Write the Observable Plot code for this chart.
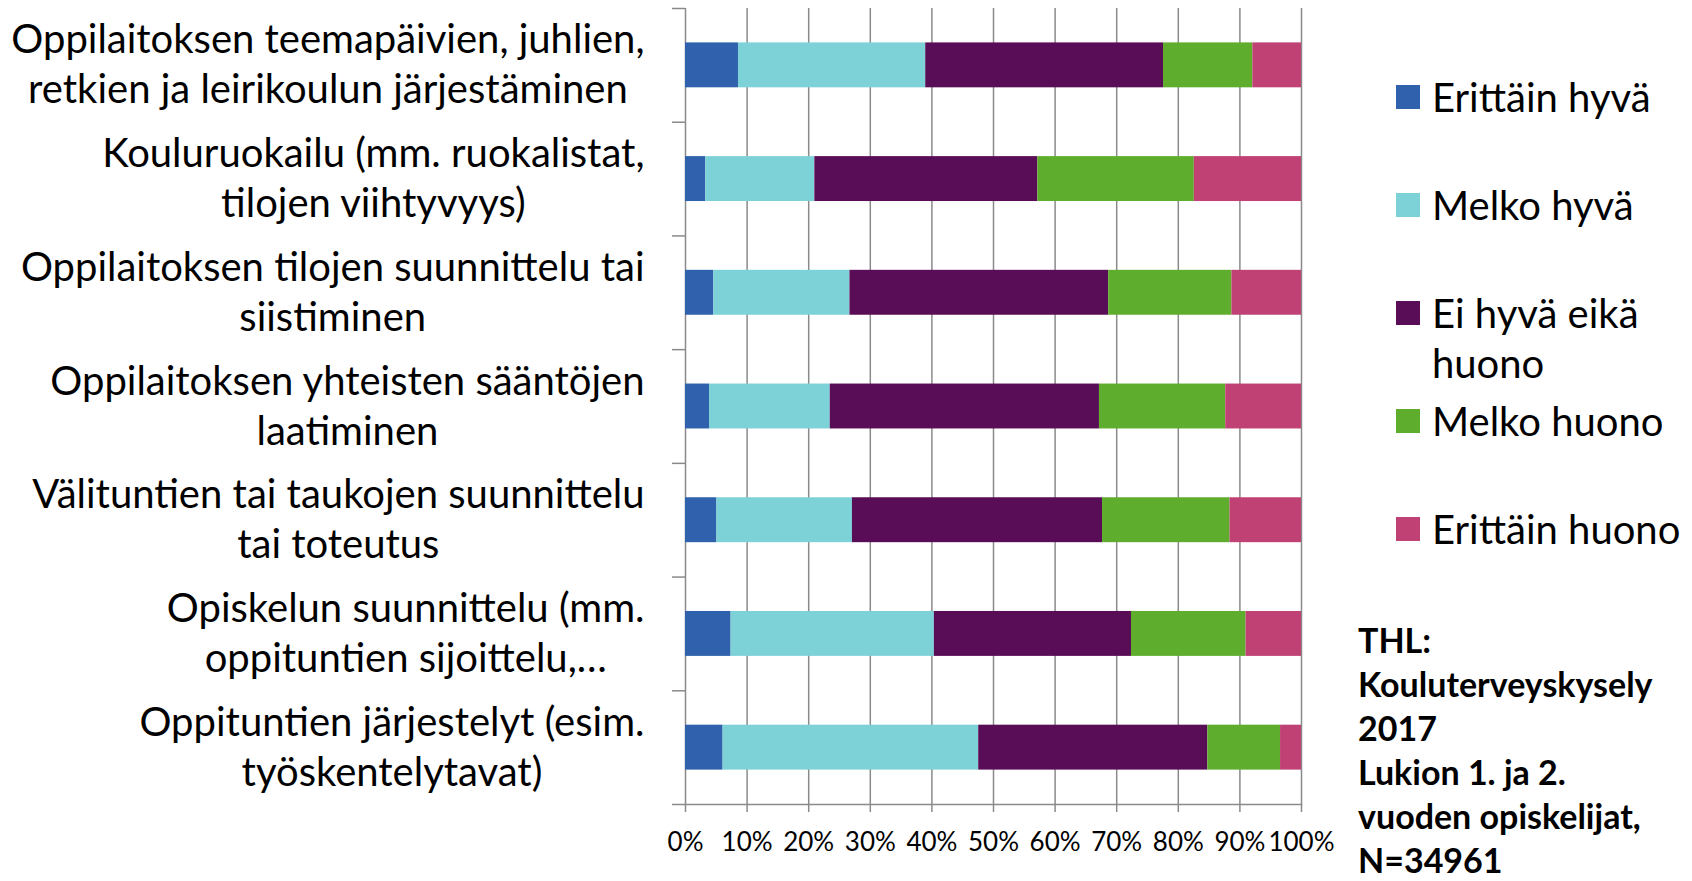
<!DOCTYPE html>
<html><head><meta charset="utf-8">
<script src="https://cdn.jsdelivr.net/npm/d3@7"></script>
<script src="https://cdn.jsdelivr.net/npm/@observablehq/plot@0.6"></script>
<style>
html,body{margin:0;padding:0;background:#fff;}
#wrap{position:relative;width:1692px;height:881px;overflow:hidden;font-family:Lato, sans-serif;color:#000;}
#chart{position:absolute;left:0;top:0;}
.item{position:absolute;left:1396px;display:flex;align-items:flex-start;font-size:40px;line-height:50px;}
.sw{width:24px;height:24px;margin-top:13px;margin-right:12px;flex:none;}
.lbl{width:255px;}
#caption{position:absolute;left:1358px;top:623px;width:330px;font-weight:700;font-size:34px;line-height:34px;}
#caption div{white-space:nowrap;margin-bottom:10px;}
#caption div:last-child{margin-bottom:0;}
</style></head><body>
<div id="wrap"><div id="chart"></div><div id="legend"></div><div id="caption"></div></div>
<script>
const categories = [
  "Oppilaitoksen teemapäivien, juhlien, retkien ja leirikoulun järjestäminen",
  "Kouluruokailu (mm. ruokalistat, tilojen viihtyvyys)",
  "Oppilaitoksen tilojen suunnittelu tai siistiminen",
  "Oppilaitoksen yhteisten sääntöjen laatiminen",
  "Välituntien tai taukojen suunnittelu tai toteutus",
  "Opiskelun suunnittelu (mm. oppituntien sijoittelu,…",
  "Oppituntien järjestelyt (esim. työskentelytavat)"
];
const categoryLabels = [
  "Oppilaitoksen teemapäivien, juhlien,\nretkien ja leirikoulun järjestäminen",
  "Kouluruokailu (mm. ruokalistat,\ntilojen viihtyvyys)",
  "Oppilaitoksen tilojen suunnittelu tai\nsiistiminen",
  "Oppilaitoksen yhteisten sääntöjen\nlaatiminen",
  "Välituntien tai taukojen suunnittelu\ntai toteutus",
  "Opiskelun suunnittelu (mm.\noppituntien sijoittelu,…",
  "Oppituntien järjestelyt (esim.\ntyöskentelytavat)"
];
const levels = ["Erittäin hyvä", "Melko hyvä", "Ei hyvä eikä huono", "Melko huono", "Erittäin huono"];
const colors = ["#2f61ac", "#7dd2d8", "#5a0d57", "#5fad2d", "#c04274"];
const erittainHyva    = [8.6, 3.3, 4.6, 3.9, 5.1, 7.4, 6.1];
const melkoHyva       = [30.4, 17.7, 22.1, 19.6, 22.0, 33.0, 41.5];
const eiHyvaEikaHuono = [38.6, 36.2, 42.0, 43.7, 40.6, 32.0, 37.2];
const melkoHuono      = [14.5, 25.4, 20.0, 20.5, 20.7, 18.6, 11.8];
const erittainHuono   = [7.9, 17.4, 11.3, 12.3, 11.6, 9.0, 3.4];
const xTicks = [0, 10, 20, 30, 40, 50, 60, 70, 80, 90, 100];
const captionLines = ["THL:", "Kouluterveyskysely", "2017", "Lukion 1. ja 2.", "vuoden opiskelijat,", "N=34961"];

const series = [erittainHyva, melkoHyva, eiHyvaEikaHuono, melkoHuono, erittainHuono];
const rows = categories.flatMap((c, i) => levels.map((l, j) => ({category: c, level: l, value: series[j][i]})));
const labelOf = new Map(categories.map((c, i) => [c, categoryLabels[i]]));

const W = 1354, H = 881, mT = 8, mB = 77, mL = 685, mR = 53;
const step = (H - mT - mB) / categories.length;
const gridColor = "#8a8a8a";
const font = "Lato";

const plot = Plot.plot({
  width: W, height: H,
  marginLeft: mL, marginRight: mR, marginTop: mT, marginBottom: mB,
  style: {background: "transparent", overflow: "visible", color: "black"},
  x: {domain: [0, 100]},
  y: {domain: categories, paddingInner: 0.605, paddingOuter: 0.3025, round: false},
  color: {domain: levels, range: colors},
  marks: [
    Plot.gridX(xTicks, {stroke: gridColor, strokeOpacity: 1, strokeWidth: 1.5}),
    Plot.frame({anchor: "bottom", stroke: gridColor, strokeWidth: 1.5}),
    Plot.barX(rows, {x: "value", y: "category", fill: "level"}),
    Plot.axisX({ticks: xTicks, tickSize: 8, tickPadding: 20, tickFormat: d => d + "%",
      stroke: gridColor, strokeWidth: 1.5, fill: "black", fontSize: 26, fontFamily: font, label: null}),
    Plot.axisY({ticks: categories, tickSize: 13, dy: -step / 2, fill: "none",
      stroke: gridColor, strokeWidth: 1.5, label: null}),
    Plot.axisY({ticks: categories.slice(-1), tickSize: 13, dy: step / 2, fill: "none",
      stroke: gridColor, strokeWidth: 1.5, label: null}),
    Plot.axisY({ticks: categories, tickSize: 0, tickPadding: 41, textAnchor: "middle", dy: -3,
      tickFormat: d => labelOf.get(d), fill: "black", fontSize: 40, fontFamily: font,
      lineHeight: 50 / 40, label: null})
  ]
});
document.getElementById("chart").append(plot);

// right-align each centered label block against the axis
plot.querySelectorAll('g[aria-label="y-axis tick label"] text').forEach(t => {
  const w = t.getBBox().width;
  const tr = t.getAttribute("transform") || "";
  t.setAttribute("transform", (tr + ` translate(${-w / 2},0)`).trim());
});

// legend
const legend = document.getElementById("legend");
levels.forEach((l, i) => {
  const item = document.createElement("div");
  item.className = "item";
  item.style.top = (97 + i * 108 - 25) + "px";
  const sw = document.createElement("div");
  sw.className = "sw";
  sw.style.background = colors[i];
  const tx = document.createElement("div");
  tx.className = "lbl";
  tx.textContent = l;
  item.append(sw, tx);
  legend.append(item);
});
const cap = document.getElementById("caption");
captionLines.forEach(s => {
  const d = document.createElement("div");
  d.textContent = s;
  cap.append(d);
});
</script>
</body></html>
